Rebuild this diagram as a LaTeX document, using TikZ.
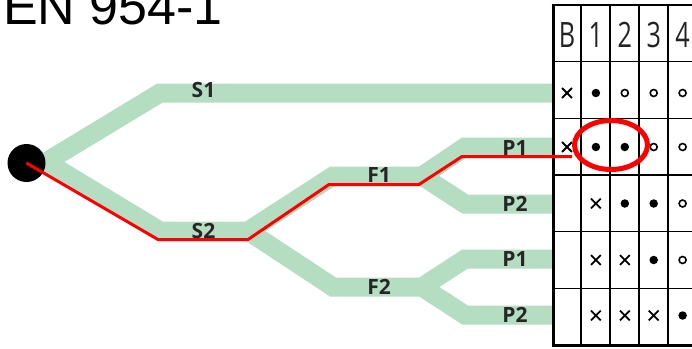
\documentclass[tikz,border=0pt]{standalone}
\usepackage{fontspec}
\setmainfont{Liberation Sans}
\newfontfamily\labelfont{Open Sans}
\newfontfamily\headfont[FakeStretch=0.72]{Open Sans}
\usetikzlibrary{shapes.geometric,shapes.misc}
\definecolor{bandgreen}{RGB}{180,221,194}
\definecolor{headgray}{RGB}{35,35,35}
\begin{document}
\begin{tikzpicture}[x=1pt,y=-1pt,
  bandpath/.style={draw=bandgreen,line width=19pt,line join=miter},
  redroute/.style={draw=red,line width=3pt,line join=miter},
  lbl/.style={font=\labelfont\bfseries\fontsize{21}{21}\selectfont,text=black!85,inner sep=0},
  head/.style={font=\headfont\fontsize{35}{35}\selectfont,text=headgray,inner sep=0,anchor=base},
  thin/.style={line width=1.4pt},
  thick/.style={line width=3pt},
  symd/.style={circle,fill=black,minimum size=8.5pt,inner sep=0},
  symo/.style={circle,draw=black,line width=1.6pt,minimum size=7pt,inner sep=0},
  symx/.style={cross out,draw=black,line width=1.8pt,minimum size=8pt,inner sep=0},
  symn/.style={inner sep=0,minimum size=0pt}]
\useasboundingbox (0,0) rectangle (692,348);

% title
\node[anchor=base west,font=\fontsize{52}{52}\selectfont,inner sep=0] (title) at (3,24) {EN 954-1};

% branch points of the tree
\coordinate (j0) at (26,162);
\coordinate (j1) at (46,162);
\coordinate (s1a) at (160,93);
\coordinate (s1e) at (553,93);
\coordinate (s2a) at (160,231);
\coordinate (s2b) at (248,231);
\coordinate (f1a) at (333,176);
\coordinate (f1b) at (422,176);
\coordinate (f2a) at (333,287);
\coordinate (f2b) at (422,287);
\coordinate (p1a) at (465,147);
\coordinate (p1e) at (553,147);
\coordinate (p2a) at (465,204);
\coordinate (p2e) at (553,204);
\coordinate (p3a) at (465,259);
\coordinate (p3e) at (553,259);
\coordinate (p4a) at (465,315);
\coordinate (p4e) at (553,315);

% green branches
\draw[bandpath] (j0) -- (j1) -- (s1a) -- (s1e);
\draw[bandpath] (j0) -- (j1) -- (s2a) -- (s2b) -- (f1a) -- (f1b) -- (p1a) -- (p1e);
\draw[bandpath] (f1b) -- (p2a) -- (p2e);
\draw[bandpath] (s2b) -- (f2a) -- (f2b) -- (p3a) -- (p3e);
\draw[bandpath] (f2b) -- (p4a) -- (p4e);

% branch labels
\node[lbl] (ls1) at (203.5,90) {S1};
\node[lbl] (ls2) at (203.5,231) {S2};
\node[lbl] (lf1) at (379,175.5) {F1};
\node[lbl] (lf2) at (379,286.5) {F2};
\node[lbl] (lp1) at (515,148) {P1};
\node[lbl] (lp2) at (515,204) {P2};
\node[lbl] (lp3) at (515,259) {P1};
\node[lbl] (lp4) at (515,315) {P2};

% table grid
\foreach \yy in {61.7,118.3,175,231.7,288.3}
  \draw[thin] (553,\yy) -- (700,\yy);
\foreach \xx in {581,610,639,668}
  \draw[thin] (\xx,5) -- (\xx,345);
\draw[line width=2.4pt] (551.5,5) -- (700,5);
\draw[thick] (551.5,345) -- (700,345);
\draw[thick] (553,3.8) -- (553,346.5);

% header
\foreach \t [count=\c] in {B,1,2,3,4}
  \node[head] (h-\c) at ({567+28.9*(\c-1)},47) {\t};

% symbols: d = filled, o = open, x = cross, n = empty
\foreach \row [count=\r] in {{x,d,o,o,o},{x,d,d,o,o},{n,x,d,d,o},{n,x,x,d,o},{n,x,x,x,d}} {
  \pgfmathsetmacro{\yy}{{93,147,203.5,260,315.5}[\r-1]}
  \foreach \s [count=\c] in \row
    \node[sym\s] (m-\r-\c) at ({567+28.9*(\c-1)},\yy) {};
}

% source
\node[circle,fill=black,minimum size=38pt,inner sep=0] (src) at (26.5,163) {};

% highlighted route
\coordinate (r1) at (158,239.5);
\coordinate (r2) at (248,239.5);
\coordinate (r3) at (329,184.5);
\coordinate (r4) at (419,184.5);
\coordinate (r5) at (462,156.5);
\coordinate (r6) at (572,156.5);
\draw[redroute] (src.center) -- (r1) -- (r2) -- (r3) -- (r4) -- (r5) -- (r6);

% marked cells
\node[ellipse,draw=red,line width=5pt,minimum width=73pt,minimum height=49pt,inner sep=0] (ring) at (611,145) {};
\end{tikzpicture}
\end{document}
